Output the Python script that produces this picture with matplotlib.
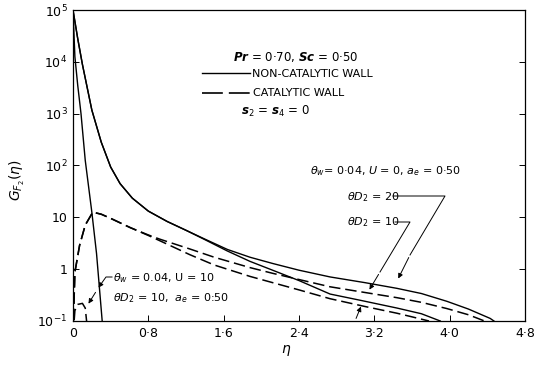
import numpy as np
import matplotlib
matplotlib.use("Agg")
from matplotlib import pyplot as plt
from matplotlib.lines import Line2D

plt.rcParams["font.family"] = ["DejaVu Sans"]
plt.rcParams["mathtext.default"] = "it"

# values: eta and log10 G_F2
# non-catalytic wall, U = 0 (theta_D2 = 20 and 10)
eta_nc20 = [0, 0.05, 0.1, 0.2, 0.3, 0.4, 0.5, 0.63, 0.8, 1.0, 1.2, 1.4, 1.64, 1.88,
            2.12, 2.4, 2.73, 3.1, 3.44, 3.7, 3.97, 4.2, 4.43, 4.47]
lg_nc20 = [5.0, 4.45, 3.95, 3.07, 2.45, 1.97, 1.65, 1.37, 1.12, 0.92, 0.75, 0.58, 0.38, 0.23,
           0.11, -0.02, -0.15, -0.26, -0.37, -0.47, -0.62, -0.77, -0.95, -1.0]
eta_nc10 = [0, 0.05, 0.1, 0.2, 0.3, 0.4, 0.5, 0.63, 0.8, 1.0, 1.2, 1.4, 1.64, 1.88,
            2.12, 2.4, 2.73, 3.05, 3.44, 3.7, 3.9]
lg_nc10 = [5.0, 4.45, 3.95, 3.07, 2.45, 1.97, 1.65, 1.37, 1.12, 0.92, 0.75, 0.57, 0.35, 0.15,
           -0.02, -0.22, -0.48, -0.6, -0.75, -0.86, -1.0]

# catalytic wall, U = 0
eta_c20 = [0, 0.02, 0.07, 0.13, 0.21, 0.3, 0.4, 0.61, 0.8, 0.92, 1.24, 1.5, 1.88,
           2.12, 2.4, 2.73, 3.1, 3.44, 3.7, 3.97, 4.2, 4.37]
lg_c20 = [-1.3, -0.06, 0.46, 0.85, 1.10, 1.06, 0.98, 0.80, 0.66, 0.58, 0.39, 0.23, 0.03,
          -0.08, -0.2, -0.34, -0.45, -0.55, -0.64, -0.76, -0.88, -1.0]
eta_c10 = [0, 0.02, 0.07, 0.13, 0.21, 0.3, 0.4, 0.61, 0.8, 0.92, 1.24, 1.5, 1.88,
           2.12, 2.4, 2.73, 3.1, 3.44, 3.6, 3.78]
lg_c10 = [-1.3, -0.06, 0.46, 0.85, 1.10, 1.06, 0.98, 0.80, 0.65, 0.55, 0.28, 0.08, -0.14,
          -0.26, -0.4, -0.57, -0.72, -0.85, -0.92, -1.0]

# U = 10, theta_D2 = 10
eta_u10_nc = [0, 0.02, 0.05, 0.085, 0.13, 0.2, 0.25, 0.31]
lg_u10_nc = [5.0, 4.1, 3.55, 3.0, 2.1, 1.1, 0.3, -1.0]
eta_u10_c = [0, 0.02, 0.05, 0.1, 0.13, 0.15]
lg_u10_c = [-1.3, -0.8, -0.68, -0.66, -0.75, -1.1]

xticks = [0, 0.8, 1.6, 2.4, 3.2, 4.0, 4.8]
xticklabels = ["0", "0·8", "1·6", "2·4", "3·2", "4·0", "4·8"]
yticks = [0.1, 1, 10, 1e2, 1e3, 1e4, 1e5]
yticklabels = [r"$\mathregular{10^{-1}}$", "1", "10", r"$\mathregular{10^2}$",
               r"$\mathregular{10^3}$", r"$\mathregular{10^4}$", r"$\mathregular{10^5}$"]

W, H = 535, 369
fig = plt.figure(figsize=(W / 100, H / 100), dpi=100)
ax = fig.add_axes([73 / W, 1 - 321 / H, (525 - 73) / W, (321 - 10) / H])


def F(x, y):
    return x / W, 1 - y / H


dash = (7.5, 3.2)
for e, g in [(eta_nc20, lg_nc20), (eta_nc10, lg_nc10), (eta_u10_nc, lg_u10_nc)]:
    ax.plot(e, 10 ** np.array(g), color="k", lw=1.0)
for e, g in [(eta_c20, lg_c20), (eta_c10, lg_c10), (eta_u10_c, lg_u10_c)]:
    ax.plot(e, 10 ** np.array(g), color="k", lw=1.1, dashes=dash)

ax.set_yscale("log")
ax.set_xlim(0, 4.8)
ax.set_ylim(0.1, 1e5)
ax.set_xticks(xticks)
ax.set_xticklabels(xticklabels, fontsize=9)
ax.set_yticks(yticks)
ax.set_yticklabels(yticklabels, fontsize=9)
ax.minorticks_off()
ax.tick_params(direction="in", length=4, width=0.7, right=True, top=False, pad=4)
for s in ax.spines.values():
    s.set_linewidth(0.9)

fig.text(*F(17, 180), r"$G_{F_2}(\eta)$", rotation=90, ha="center", va="center", fontsize=10)
fig.text(*F(286, 350), r"$\eta$", ha="center", va="center", fontsize=10)

# legend block
fig.text(*F(233, 57), r"$\mathbfit{Pr}$ = 0·70, $\mathbfit{Sc}$ = 0·50", va="center", fontsize=8.5)
fig.add_artist(Line2D([F(202, 0)[0], F(250, 0)[0]], [F(0, 73)[1]] * 2,
                      transform=fig.transFigure, color="k", lw=1.0))
fig.text(*F(252, 74), "NON-CATALYTIC WALL", va="center", fontsize=8)
fig.add_artist(Line2D([F(202, 0)[0], F(250, 0)[0]], [F(0, 93)[1]] * 2,
                      transform=fig.transFigure, color="k", lw=1.2, dashes=(12.5, 3.6)))
fig.text(*F(253, 93), "CATALYTIC WALL", va="center", fontsize=8)
fig.text(*F(241, 111), r"$\mathbfit{s}_2$ = $\mathbfit{s}_4$ = 0", va="center", fontsize=8.5)

fig.text(*F(310, 171), r"$\theta_w$= 0·04, $U$ = 0, $a_e$ = 0·50", va="center", fontsize=8)
fig.text(*F(347, 197), r"$\theta D_2$ = 20", va="center", fontsize=8)
fig.text(*F(347, 222), r"$\theta D_2$ = 10", va="center", fontsize=8)
fig.text(*F(113, 278), r"$\theta_w$ = 0.04, U = 10", va="center", fontsize=8)
fig.text(*F(113, 298), r"$\theta D_2$ = 10,  $a_e$ = 0:50", va="center", fontsize=8)


def leader(pts):
    xs = [F(x, y)[0] for x, y in pts]
    ys = [F(x, y)[1] for x, y in pts]
    fig.add_artist(Line2D(xs, ys, transform=fig.transFigure, color="k", lw=0.7))


def arrow(tail, tip):
    fig.add_artist(matplotlib.patches.FancyArrowPatch(
        F(*tail), F(*tip), transform=fig.transFigure, arrowstyle="-|>",
        mutation_scale=7, lw=0.7, color="k"))


leader([(393, 196), (445, 196), (410, 255)])
arrow((410, 255), (397, 281))
leader([(395, 222), (410, 222), (380, 272)])
arrow((380, 272), (368, 292))
arrow((355, 321), (362, 304))
leader([(112, 277), (106, 277), (101, 284)])
arrow((101, 284), (97, 290))
arrow((97, 290), (87, 306))

fig.savefig("out.png", dpi=100)
